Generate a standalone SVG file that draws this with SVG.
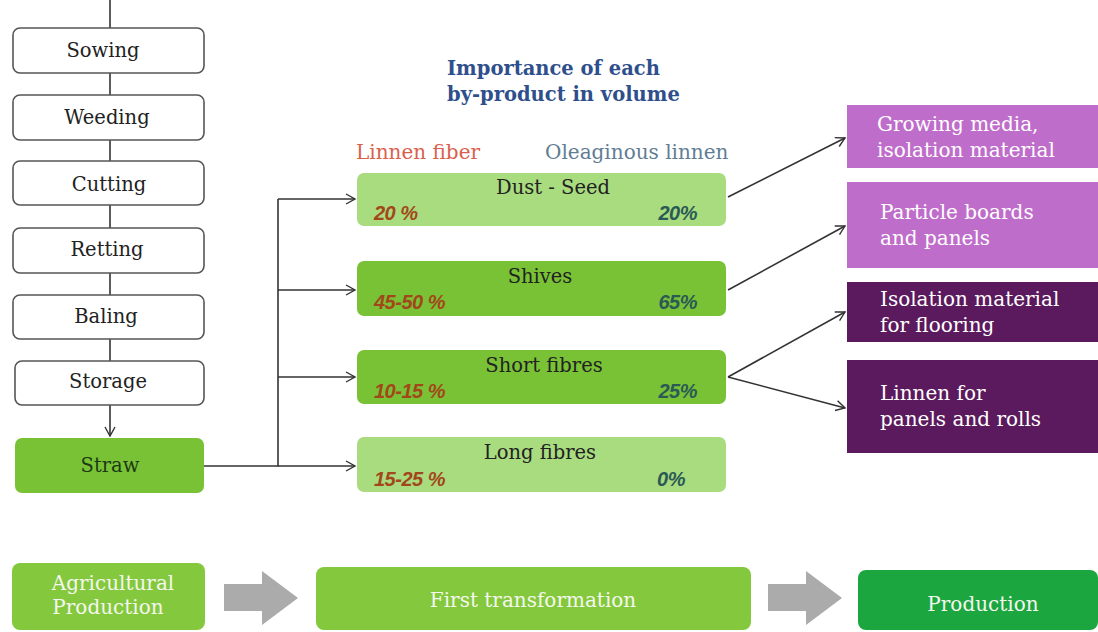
<svg xmlns="http://www.w3.org/2000/svg" width="1098" height="632" viewBox="0 0 1098 632">
<defs>
<marker id="ar" markerWidth="12" markerHeight="12" refX="10" refY="6" orient="auto" markerUnits="userSpaceOnUse">
<path d="M1,1 L10,6 L1,11" fill="none" stroke="#333" stroke-width="1.4"/>
</marker>
<style>
.step{fill:#fff;stroke:#555;stroke-width:1.6}
.t{font-family:"DejaVu Serif","Liberation Serif",serif;font-size:19.5px;fill:#222;text-anchor:middle}
.tl{font-family:"DejaVu Serif","Liberation Serif",serif;font-size:20px;fill:#fff}
.tw{font-family:"DejaVu Serif","Liberation Serif",serif;font-size:20px;fill:#f4f7ee;text-anchor:middle}
.pl{font-family:"Liberation Sans",Arial,sans-serif;font-size:20px;font-weight:bold;font-style:italic;fill:#a2471a;letter-spacing:-0.5px}
.pr{font-family:"Liberation Sans",Arial,sans-serif;font-size:20px;font-weight:bold;font-style:italic;fill:#2b5a55;text-anchor:end;letter-spacing:-0.5px}
.ln{stroke:#333;stroke-width:1.6;fill:none}
.lg{fill:#a9dc7f}
.dg{fill:#79c236}
.hd{font-family:"DejaVu Serif",serif;font-size:19.5px;font-weight:bold;fill:#2f4f8c}
</style>
</defs>

<g id="connectors">
<line class="ln" x1="110" y1="0" x2="110" y2="28"/>
<line class="ln" x1="110" y1="73" x2="110" y2="95"/>
<line class="ln" x1="110" y1="140" x2="110" y2="161"/>
<line class="ln" x1="110" y1="205" x2="110" y2="228"/>
<line class="ln" x1="110" y1="273" x2="110" y2="295"/>
<line class="ln" x1="110" y1="339" x2="110" y2="361"/>
<line class="ln" x1="110" y1="405" x2="110" y2="436" marker-end="url(#ar)"/>
<polyline class="ln" points="204,466 278,466 278,199"/>
<line class="ln" x1="278" y1="199" x2="355" y2="199" marker-end="url(#ar)"/>
<line class="ln" x1="278" y1="290" x2="355" y2="290" marker-end="url(#ar)"/>
<line class="ln" x1="278" y1="377" x2="355" y2="377" marker-end="url(#ar)"/>
<line class="ln" x1="278" y1="466" x2="355" y2="466" marker-end="url(#ar)"/>
<line class="ln" x1="728" y1="197" x2="845" y2="138" marker-end="url(#ar)"/>
<line class="ln" x1="728" y1="290" x2="845" y2="226" marker-end="url(#ar)"/>
<line class="ln" x1="728" y1="377" x2="845" y2="312" marker-end="url(#ar)"/>
<line class="ln" x1="728" y1="377" x2="845" y2="408" marker-end="url(#ar)"/>
<polygon fill="#ababab" points="224,584 262,584 262,571 298,598 262,625 262,611 224,611"/>
<polygon fill="#ababab" points="768,584 806,584 806,571 842,598 806,625 806,611 768,611"/>
</g>

<g id="sowing"><rect class="step" x="13" y="28" width="191" height="45" rx="7"/><text class="t" x="103" y="57">Sowing</text></g>
<g id="weeding"><rect class="step" x="13" y="95" width="191" height="45" rx="7"/><text class="t" x="107" y="124">Weeding</text></g>
<g id="cutting"><rect class="step" x="13" y="161" width="191" height="44" rx="7"/><text class="t" x="109" y="191">Cutting</text></g>
<g id="retting"><rect class="step" x="13" y="228" width="191" height="45" rx="7"/><text class="t" x="107" y="256">Retting</text></g>
<g id="baling"><rect class="step" x="13" y="295" width="191" height="44" rx="7"/><text class="t" x="106" y="323">Baling</text></g>
<g id="storage"><rect class="step" x="15" y="361" width="189" height="44" rx="7"/><text class="t" x="108" y="388">Storage</text></g>
<g id="straw"><rect x="15" y="438" width="189" height="55" rx="7" fill="#79c236"/><text class="t" x="110" y="472" style="fill:#1c3a14">Straw</text></g>

<g id="title">
<text class="hd" x="447" y="75">Importance of each</text>
<text class="hd" x="447" y="101">by-product in volume</text>
</g>
<g id="col-labels">
<text x="356" y="159" style="font-family:'DejaVu Serif',serif;font-size:20px;fill:#d9614c">Linnen fiber</text>
<text x="545" y="159" style="font-family:'DejaVu Serif',serif;font-size:20px;fill:#5f7d93">Oleaginous linnen</text>
</g>

<g id="dust-seed"><rect class="lg" x="357" y="173" width="369" height="53" rx="7"/><text class="t" x="553" y="194">Dust - Seed</text><text class="pl" x="374" y="220">20 %</text><text class="pr" x="697" y="220">20%</text></g>
<g id="shives"><rect class="dg" x="357" y="261" width="369" height="55" rx="7"/><text class="t" x="540" y="283">Shives</text><text class="pl" x="374" y="309">45-50 %</text><text class="pr" x="697" y="309">65%</text></g>
<g id="short-fibres"><rect class="dg" x="357" y="350" width="369" height="54" rx="7"/><text class="t" x="544" y="372">Short fibres</text><text class="pl" x="374" y="398">10-15 %</text><text class="pr" x="697" y="398">25%</text></g>
<g id="long-fibres"><rect class="lg" x="357" y="437" width="369" height="55" rx="7"/><text class="t" x="540" y="459">Long fibres</text><text class="pl" x="374" y="486">15-25 %</text><text class="pr" x="685" y="486">0%</text></g>

<g id="growing-media"><rect x="847" y="105" width="251" height="63" fill="#bf6dcb"/><text class="tl" x="877" y="131">Growing media,</text><text class="tl" x="877" y="157">isolation material</text></g>
<g id="particle-boards"><rect x="847" y="182" width="251" height="86" fill="#bf6dcb"/><text class="tl" x="880" y="219">Particle boards</text><text class="tl" x="880" y="245">and panels</text></g>
<g id="isolation-flooring"><rect x="847" y="282" width="251" height="60" fill="#5b1a5d"/><text class="tl" x="880" y="306">Isolation material</text><text class="tl" x="880" y="332">for flooring</text></g>
<g id="linnen-panels"><rect x="847" y="360" width="251" height="93" fill="#5b1a5d"/><text class="tl" x="880" y="400">Linnen for</text><text class="tl" x="880" y="426">panels and rolls</text></g>

<g id="agricultural-production"><rect x="12" y="563" width="193" height="67" rx="8" fill="#84c93d"/><text class="tw" x="113" y="590">Agricultural</text><text class="tw" x="108" y="614">Production</text></g>
<g id="first-transformation"><rect x="316" y="567" width="435" height="63" rx="8" fill="#84c93d"/><text class="tw" x="533" y="607">First transformation</text></g>
<g id="production"><rect x="858" y="570" width="240" height="60" rx="8" fill="#1ca63f"/><text class="tw" x="983" y="611">Production</text></g>
</svg>
